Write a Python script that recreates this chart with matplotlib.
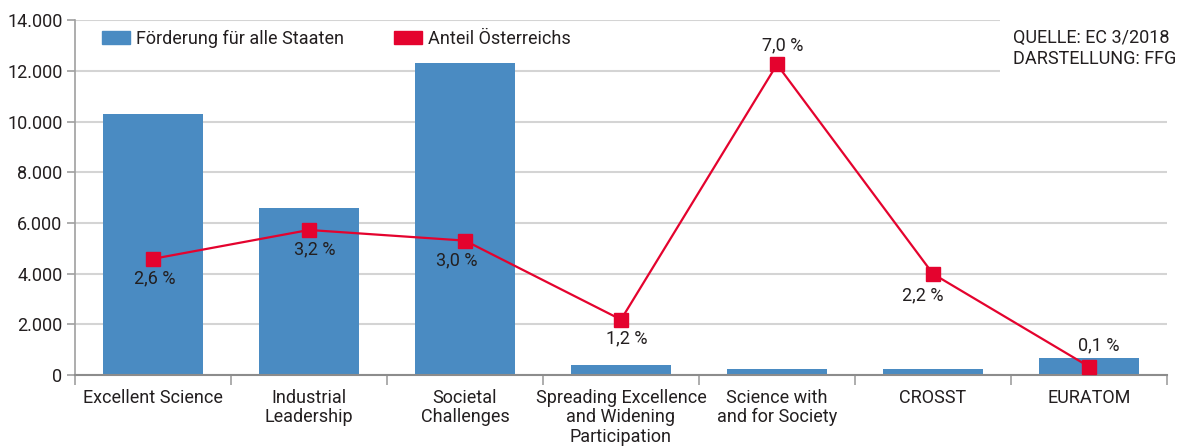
import matplotlib.pyplot as plt
from matplotlib.patches import Patch
from matplotlib.ticker import FuncFormatter

categories = [
    "Excellent Science",
    "Industrial\nLeadership",
    "Societal\nChallenges",
    "Spreading Excellence\nand Widening\nParticipation",
    "Science with\nand for Society",
    "CROSST",
    "EURATOM",
]
funding = [10300, 6600, 12300, 400, 240, 240, 670]
share_at = [2.62, 3.27, 3.03, 1.25, 7.0, 2.28, 0.19]
share_labels = ["2,6 %", "3,2 %", "3,0 %", "1,2 %", "7,0 %", "2,2 %", "0,1 %"]
y_ticks = [0, 2000, 4000, 6000, 8000, 10000, 12000, 14000]

BLUE = "#4A8BC2"
RED = "#E4032E"
TEXT = "#231F20"
GRID = "#D4D4D4"

plt.rcParams["font.family"] = ["Roboto", "DejaVu Sans"]
plt.rcParams["font.size"] = 13
plt.rcParams["text.color"] = TEXT

fig = plt.figure(figsize=(11.94, 4.46), dpi=100)
ax = fig.add_axes([0.0628, 0.159, 0.9146, 0.796])

x = list(range(len(categories)))
ax.bar(x, funding, width=0.64, color=BLUE, zorder=2)

ax.set_xlim(-0.5, len(categories) - 0.5)
ax.set_ylim(0, 14000)
ax.set_yticks(y_ticks)
ax.yaxis.set_major_formatter(FuncFormatter(lambda v, p: f"{int(v):,}".replace(",", ".")))
ax.grid(axis="y", color=GRID, linewidth=1.5, zorder=0)
ax.set_axisbelow(True)

ax.set_xticks(x)
ax.set_xticklabels(categories, linespacing=1.1)
ax.set_xticks([i - 0.5 for i in range(len(categories) + 1)], minor=True)
ax.tick_params(axis="x", which="major", length=0, pad=10, labelcolor=TEXT)
ax.tick_params(axis="x", which="minor", length=7, width=1.2, color="#A0A0A0")
ax.tick_params(axis="y", length=6, width=1.2, color="#A0A0A0", pad=3, labelcolor=TEXT)

for side in ("top", "right"):
    ax.spines[side].set_visible(False)
ax.spines["left"].set_color("#A0A0A0")
ax.spines["left"].set_linewidth(1.2)
ax.spines["bottom"].set_color("#8C8C8C")
ax.spines["bottom"].set_linewidth(1.5)

# share of Austria on a hidden second axis
ax2 = ax.twinx()
ax2.set_ylim(0, 8)
ax2.axis("off")
ax2.plot(x, share_at, color=RED, linewidth=1.6, marker="s", markersize=9.5,
         zorder=3)

label_offsets = [(2, -20), (6, -19), (-8, -20), (6, -19), (6, 19), (-10, -21), (10, 21)]
for xi, yi, lab, off in zip(x, share_at, share_labels, label_offsets):
    ax2.annotate(lab, (xi, yi), xytext=off, textcoords="offset pixels",
                 ha="center", va="center", color=TEXT)

handles = [Patch(color=BLUE, label="Förderung für alle Staaten"),
           Patch(color=RED, label="Anteil Österreichs")]
ax.legend(handles=handles, loc="upper left", bbox_to_anchor=(0.013, 1.008), ncol=2,
          frameon=False, handlelength=1.55, handleheight=0.75, handletextpad=0.35,
          columnspacing=2.75, borderaxespad=0.3)

fig.text(0.848, 0.892, "QUELLE: EC 3/2018\nDARSTELLUNG: FFG", ha="left", va="center",
         linespacing=1.2,
         bbox=dict(facecolor="white", edgecolor="none", pad=9))

fig.savefig("out.png", dpi=100)
plt.close(fig)
